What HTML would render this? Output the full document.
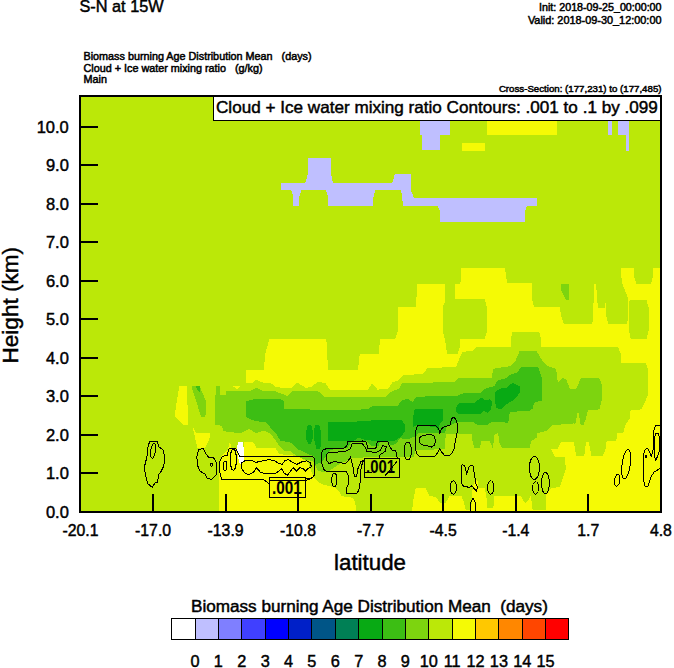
<!DOCTYPE html>
<html><head><meta charset="utf-8"><title>S-N at 15W</title>
<style>
html,body{margin:0;padding:0;background:#fff;}
body{width:674px;height:668px;position:relative;overflow:hidden;font-family:"Liberation Sans",sans-serif;color:#000;}
.t{position:absolute;white-space:nowrap;line-height:1;}
svg{position:absolute;left:0;top:0;}
</style></head><body>
<svg width="674" height="668" viewBox="0 0 674 668">
<defs><clipPath id="cp"><rect x="80" y="96" width="581" height="416"/></clipPath></defs>
<g clip-path="url(#cp)" shape-rendering="crispEdges">
<rect x="80" y="96" width="581" height="416" fill="#BBE808"/>

<polygon fill="#F5FA05" points="246.2,370.1 264.0,370.1 265.0,355.0 269.4,338.9 326.3,338.9 328.1,370.1 357.5,370.1 358.0,369.7 359.8,353.7 378.5,353.7 380.3,338.5 395.4,338.5 398.1,330.5 398.1,306.5 415.9,306.5 417.3,284.2 444.9,284.2 444.9,302.0 443.1,305.6 443.1,332.3 445.2,341.2 447.0,353.7 457.7,353.7 460.4,345.7 460.4,338.5 484.9,338.5 486.7,332.3 486.7,306.5 484.9,299.4 455.0,299.4 455.0,284.2 460.4,283.4 461.5,268.0 505.0,268.0 507.2,283.4 532.1,283.4 532.1,299.4 533.9,306.5 559.7,306.5 561.1,315.5 563.8,323.5 592.3,323.5 593.2,315.5 594.0,284.4 596.4,284.4 596.7,299.5 598.5,307.5 604.7,307.5 605.6,303.0 606.0,315.5 608.3,323.5 627.0,323.5 627.9,319.0 628.5,304.0 627.9,297.7 622.5,284.4 621.3,276.4 621.3,267.8 634.1,267.8 634.1,276.4 636.3,283.5 651.0,283.5 652.8,276.4 652.8,267.8 661.0,267.8 661.0,512.0 546.0,512.0 546.0,494.6 550.9,488.6 559.9,486.6 561.9,480.7 565.8,468.7 564.9,456.8 554.9,456.8 551.3,449.2 557.6,448.6 561.1,441.5 573.6,441.5 576.3,455.7 584.3,455.7 586.0,441.5 588.7,441.5 591.4,455.7 603.0,455.7 605.6,448.6 606.5,441.5 616.3,440.6 617.2,433.5 623.4,432.6 625.2,425.5 629.7,418.3 630.6,410.3 641.2,409.4 645.7,400.5 647.8,395.2 647.8,369.4 645.7,362.8 621.3,362.8 620.8,354.2 618.1,346.8 554.0,346.7 541.0,346.5 541.0,338.5 539.2,332.3 512.5,332.3 510.7,338.5 510.7,346.6 477.0,346.6 472.5,351.0 470.0,351.0 462.2,351.9 455.9,367.0 439.0,367.6 427.4,367.9 423.0,374.1 403.4,375.0 398.1,380.4 392.7,382.2 388.3,388.7 377.6,389.6 372.3,383.4 367.8,389.6 350.0,389.6 329.9,389.6 325.5,383.4 318.3,381.6 311.2,387.0 305.9,387.9 297.0,382.5 291.6,387.9 282.7,387.9 275.6,387.0 270.3,382.5 263.1,382.5 256.0,379.8 251.6,383.4 246.2,382.5"/>
<polygon fill="#BBE808" points="629.7,300.4 646.6,300.4 648.9,308.4 648.9,329.8 646.6,338.7 630.6,338.7 628.8,329.8 628.8,305.0"/>
<polygon fill="#F5FA05" points="219.3,512.0 219.3,469.0 220.8,457.1 228.2,449.7 228.9,443.0 230.4,443.0 231.2,448.2 237.1,448.2 243.8,448.2 243.8,442.3 253.4,442.3 256.4,448.2 275.7,448.2 278.6,453.4 284.6,454.9 290.0,454.7 298.9,456.9 307.8,462.1 312.3,474.0 316.0,479.9 321.9,484.3 334.5,487.3 339.7,491.8 341.2,496.2 352.3,497.7 355.3,502.1 356.0,512.0"/>
<polygon fill="#F5FA05" points="412.1,512.0 413.0,500.9 415.7,488.4 425.5,488.4 429.0,495.5 436.1,497.3 439.7,502.7 445.3,503.5 449.8,495.5 461.4,495.5 464.0,502.7 465.8,509.8 471.2,509.8 472.0,495.5 472.9,486.6 475.6,479.5 478.3,481.3 478.3,487.5 484.5,487.5 486.3,495.5 487.2,508.0 493.4,508.0 494.3,495.5 521.0,495.5 523.7,500.9 525.5,503.5 528.1,500.9 530.8,495.5 532.6,509.8 545.9,509.8 546.8,495.5 547.0,512.0"/>
<polygon fill="#F5FA05" points="179.2,386.2 186.6,386.2 188.5,425.3 184.1,425.3 174.5,416.4"/>
<polygon fill="#F5FA05" points="192.3,425.3 196.0,433.4 210.0,433.4 209.3,439.3 204.9,448.2 197.4,448.2"/>
<polygon fill="#F5FA05" points="232.6,386.2 240.0,386.2 237.0,389.0"/>
<rect fill="#F5FA05" x="487.0" y="120.0" width="70.0" height="15.0"/>
<rect fill="#F5FA05" x="462.0" y="143.0" width="23.0" height="8.0"/>
<polygon fill="#7DD40F" points="561.1,284.4 568.6,284.4 568.6,299.5 565.6,299.5 561.1,289.7"/>
<polygon fill="#7DD40F" points="214.5,424.5 214.5,395.0 216.0,395.0 216.0,386.2 219.7,386.2 219.7,395.0 226.4,395.0 226.4,391.0 240.0,391.4 250.7,390.5 256.9,387.9 263.1,391.4 275.6,391.4 287.2,395.9 293.4,390.5 300.5,390.5 318.3,391.4 324.6,396.8 350.0,396.7 385.6,396.7 391.8,391.4 399.0,388.7 402.5,382.5 412.3,383.4 455.0,381.6 458.6,378.0 492.0,377.7 492.9,368.8 510.7,366.1 515.2,361.7 519.6,351.0 536.6,351.0 542.8,361.7 547.2,366.1 556.1,368.8 557.9,382.5 562.4,378.0 565.9,378.9 570.0,389.0 576.3,389.0 580.7,378.3 599.4,378.3 601.7,384.5 601.7,400.5 599.4,409.4 587.8,410.3 586.0,418.3 583.4,425.5 580.7,424.6 578.0,410.3 575.4,423.7 573.9,423.4 552.6,425.2 547.2,430.5 537.4,433.2 536.6,437.7 531.2,441.2 529.4,448.3 502.7,448.3 499.2,443.0 498.3,433.2 494.7,434.1 492.9,448.3 489.4,441.2 481.4,441.2 479.6,448.3 474.2,448.3 472.5,441.2 471.6,433.5 445.7,433.5 445.1,448.9 434.4,449.5 415.4,450.1 414.0,456.5 400.0,457.0 363.0,457.5 350.7,458.1 345.3,461.7 340.0,463.5 331.5,469.5 325.6,472.5 318.2,471.0 313.7,462.1 311.5,460.8 304.3,459.3 297.0,456.2 290.8,451.5 283.5,450.4 279.3,445.8 274.2,438.5 270.3,433.3 263.1,430.6 256.0,433.3 248.9,428.8 240.0,433.3 223.4,431.2 221.9,426.0 216.0,424.5"/>
<polygon fill="#7DD40F" points="192.3,386.2 199.7,386.2 206.4,402.3 206.4,411.9 204.9,417.1 201.2,417.1 192.3,389.0"/>
<polygon fill="#3CBE14" points="246.2,417.2 246.2,401.2 256.9,398.5 280.9,399.4 283.6,401.2 284.5,409.2 350.0,410.0 367.8,409.2 373.1,405.6 398.1,405.6 400.7,401.2 407.0,398.5 412.3,402.0 416.8,396.7 456.8,395.8 463.9,393.1 480.0,393.1 484.0,389.0 494.7,386.0 497.4,380.7 506.3,378.0 510.7,374.5 517.0,372.4 521.4,367.0 538.3,367.0 541.0,375.0 542.3,378.9 542.3,400.3 533.9,402.9 533.0,408.3 529.4,411.0 509.9,411.8 508.1,423.4 502.7,421.6 492.0,421.6 486.7,425.2 477.8,425.2 473.6,422.2 457.0,422.2 451.0,425.2 446.3,426.4 445.1,432.9 417.8,433.5 416.6,435.9 411.9,437.6 408.3,439.4 400.0,438.2 396.0,444.0 390.0,445.5 388.0,441.5 380.0,441.5 378.8,445.5 371.0,445.5 366.5,441.5 358.0,441.0 351.0,442.5 347.6,447.6 340.0,448.0 330.0,450.0 322.0,462.0 314.7,465.0 313.6,456.2 309.5,454.6 304.3,452.0 297.0,448.9 290.8,442.7 280.4,440.6 275.2,432.3 270.0,427.0 266.7,422.6 254.2,420.8"/>
<polygon fill="#3CBE14" points="196.0,386.2 199.7,386.2 199.7,392.6 196.0,387.4"/>
<polygon fill="#08AA14" points="328.5,421.7 350.0,422.5 362.5,420.7 401.6,419.8 405.2,425.2 405.2,431.4 400.7,436.8 394.5,440.8 373.6,440.8 362.0,439.3 359.0,437.2 354.0,440.8 328.2,441.0"/>
<polygon fill="#08AA14" points="308.0,424.5 311.0,424.5 312.6,430.0 312.6,439.0 311.0,443.7 308.0,443.7 306.3,439.0 306.3,431.0"/>
<polygon fill="#08AA14" points="315.5,424.5 319.0,424.5 320.9,431.0 320.9,446.0 319.5,448.9 316.5,448.9 314.5,441.0 313.6,432.0"/>
<polygon fill="#08AA14" points="414.8,409.2 442.7,409.2 443.5,419.8 439.9,423.4 438.1,430.5 435.5,427.0 416.8,425.2 413.0,427.0 413.0,416.9"/>
<polygon fill="#08AA14" points="455.9,407.4 459.5,402.9 474.2,402.9 481.4,397.6 484.9,400.3 489.4,399.4 492.0,402.0 491.2,409.2 487.6,412.7 483.1,410.9 481.4,413.6 458.6,414.5 455.9,411.0"/>
<polygon fill="#08AA14" points="495.6,391.4 500.1,388.7 506.3,387.8 512.5,382.8 519.6,386.0 519.6,393.1 513.4,400.3 507.2,403.8 501.8,409.2 496.5,408.3 494.7,400.3"/>
<polygon fill="#BFBFFF" points="281.0,182.6 305.3,182.6 307.8,174.3 307.8,157.9 331.0,157.9 331.0,174.3 333.0,182.6 392.3,182.6 394.8,174.3 411.2,174.3 411.2,190.7 413.8,197.8 537.0,197.8 537.0,205.8 527.0,205.8 525.3,211.0 525.3,221.8 439.8,221.8 439.8,211.0 437.5,205.8 403.2,205.8 401.1,190.2 375.4,190.2 373.4,197.0 372.9,205.8 328.0,205.8 328.0,197.0 326.0,190.2 301.5,190.2 299.0,197.0 299.0,205.8 293.2,205.8 293.2,197.0 291.4,190.2 281.0,190.2"/>
<rect fill="#BFBFFF" x="420.0" y="120.0" width="30.0" height="15.0"/>
<rect fill="#BFBFFF" x="422.0" y="135.0" width="18.0" height="15.0"/>
<rect fill="#BFBFFF" x="608.4" y="120.0" width="3.9" height="15.0"/>
<rect fill="#BFBFFF" x="618.2" y="120.0" width="10.8" height="15.0"/>
<rect fill="#BFBFFF" x="625.7" y="135.0" width="3.3" height="16.0"/>
<polygon fill="#FFFFFF" points="237.1,448.2 237.8,442.3 242.3,441.5 243.8,448.2 243.8,461.5 240.1,464.5 237.8,457.1"/>
</g>
<g clip-path="url(#cp)" fill="none" stroke="#000" stroke-width="1" shape-rendering="crispEdges">
<path d="M149.6 441.4 L157.6 441.4 L158.5 446.4 L162.9 449.9 L164.7 457.0 L163.8 465.9 L161.2 471.3 L158.5 474.8 L157.6 482.0 L154.9 482.9 L152.3 487.3 L147.8 483.8 L146.0 476.6 L144.2 467.7 L146.9 457.0 L147.8 448.1 Z"/>
<ellipse cx="153.1" cy="450.8" rx="2.4" ry="7.5" transform="rotate(8 153.1 450.8)"/>
<path d="M198.5 449.9 L203.0 448.1 L205.7 453.5 L208.3 457.0 L213.7 457.9 L216.3 462.4 L216.3 474.8 L211.9 479.3 L207.4 478.4 L204.8 474.0 L200.3 471.3 L197.7 465.9 L196.8 457.0 Z"/>
<ellipse cx="211.4" cy="464.7" rx="1.2" ry="1.4" transform="rotate(0 211.4 464.7)"/>
<path d="M269.7 484.1 L264.0 480.0 L230.5 479.2 L228.1 480.0 L221.5 479.2 L219.9 472.6 L219.9 461.2 L222.3 456.3 L227.2 455.5 L228.9 449.0 L235.4 448.2 L237.8 452.2 L239.5 456.3 L312.1 456.3 L314.6 458.8 L314.9 474.3 L312.1 477.9 L305.6 478.4"/>
<path d="M241.9 462.8 L245.2 460.4 L252.5 460.4 L255.8 462.8 L259.1 461.2 L264.0 460.9 L268.9 459.6 L273.8 460.4 L277.8 462.8 L281.9 464.5 L285.2 460.4 L288.4 459.6 L293.3 462.8 L296.6 464.5 L301.5 462.0 L306.4 460.9 L310.5 462.8 L311.3 466.9 L308.0 468.6 L305.6 471.0 L303.1 468.6 L299.9 467.7 L296.6 471.0 L293.3 467.7 L290.1 471.8 L287.6 475.1 L284.4 473.5 L281.9 468.6 L278.7 471.0 L275.4 473.5 L268.9 473.9 L260.7 472.6 L256.6 467.7 L253.4 472.6 L248.5 474.6 L244.4 472.6 L241.9 468.6 Z"/>
<ellipse cx="233.3" cy="459.6" rx="3.0" ry="10.6" transform="rotate(0 233.3 459.6)"/>
<ellipse cx="225.1" cy="465.8" rx="1.6" ry="4.9" transform="rotate(0 225.1 465.8)"/>
<path d="M364.7 460.6 L362.5 462.1 L361.0 469.5 L360.3 481.4 L358.8 490.3 L356.6 494.0 L346.9 493.2 L346.2 488.8 L348.4 484.3 L348.4 475.4 L346.2 471.7 L326.9 471.7 L323.9 469.5 L321.7 463.6 L321.3 454.7 L322.5 450.2 L326.9 448.4 L344.7 448.0 L346.9 445.8 L347.7 441.6 L362.5 441.0 L366.2 442.1 L367.7 448.0 L375.9 448.0 L377.3 441.6 L387.7 441.6 L390.0 447.3 L392.2 450.2 L395.9 451.0 L396.6 456.9 L398.9 459.1"/>
<path d="M364.7 460.3 L361.0 461.4 L358.1 468.0 L356.6 476.2 L354.4 476.9 L352.9 466.5 L350.6 456.9 L348.4 460.6 L345.4 463.6 L340.3 462.8 L334.3 461.4 L329.1 463.6 L326.2 459.9 L326.2 454.7 L329.1 452.4 L344.7 451.7 L350.6 448.7 L352.1 443.5 L361.8 443.1 L364.7 446.5 L367.0 451.4 L375.9 452.4 L380.3 450.2 L382.5 445.8 L386.2 446.5 L385.5 451.0 L380.3 454.7 L378.8 458.4"/>
<ellipse cx="334.3" cy="479.9" rx="2.5" ry="6.7" transform="rotate(0 334.3 479.9)"/>
<ellipse cx="407.8" cy="451.0" rx="3.7" ry="8.9" transform="rotate(0 407.8 451.0)"/>
<path d="M417.8 425.8 L435.6 425.4 L438.6 428.7 L439.8 433.5 L441.5 428.7 L445.1 426.4 L449.9 425.2 L451.6 418.6 L454.0 416.9 L456.4 420.4 L457.6 426.4 L457.0 433.5 L455.2 441.8 L454.0 448.9 L452.2 453.1 L449.9 455.4 L444.5 455.4 L441.5 451.9 L439.8 448.3 L438.0 451.9 L435.6 456.0 L419.0 456.3 L416.6 453.7 L415.4 448.9 L415.4 432.3 L416.6 427.6 Z"/>
<path d="M422.0 435.9 L430.9 434.1 L434.4 436.5 L435.6 440.6 L434.4 445.4 L431.5 447.1 L427.9 445.9 L421.4 444.8 L419.0 441.2 L419.6 437.6 Z"/>
<path d="M462.3 464.4 L464.9 466.2 L466.7 473.3 L469.4 466.2 L472.9 465.3 L474.7 475.9 L475.6 483.1 L477.4 486.6 L476.5 491.1 L473.8 488.4 L472.0 485.7 L469.4 487.5 L462.3 485.7 L461.0 477.7 L461.0 468.8 Z"/>
<ellipse cx="453.4" cy="487.5" rx="3.0" ry="6.8" transform="rotate(0 453.4 487.5)"/>
<ellipse cx="490.7" cy="487.5" rx="3.0" ry="6.8" transform="rotate(0 490.7 487.5)"/>
<path d="M470.3 511.6 L470.6 502.7 L472.9 498.2 L475.3 502.7 L475.6 511.6"/>
<ellipse cx="534.4" cy="467.9" rx="5.0" ry="11.6" transform="rotate(0 534.4 467.9)"/>
<ellipse cx="535.6" cy="487.9" rx="3.0" ry="6.2" transform="rotate(0 535.6 487.9)"/>
<ellipse cx="545.4" cy="483.1" rx="3.9" ry="10.7" transform="rotate(0 545.4 483.1)"/>
<ellipse cx="626.2" cy="464.1" rx="4.2" ry="15.0" transform="rotate(8 626.2 464.1)"/>
<ellipse cx="617.2" cy="480.3" rx="2.6" ry="6.2" transform="rotate(8 617.2 480.3)"/>
<path d="M660.0 425.5 L655.5 425.8 L653.7 430.6 L653.1 449.7 L651.3 456.3 L649.5 452.1 L647.7 448.5 L645.3 449.1 L643.5 454.5 L643.3 479.7 L645.3 486.9 L647.7 486.9 L649.5 482.1 L651.3 476.1 L654.3 471.9 L658.5 469.5 L660.0 467.7"/>
<path d="M655.5 433.6 L658.5 433.6 L659.7 439.0 L659.7 449.7 L657.3 456.9 L655.7 460.3 L654.3 455.7 L654.3 439.0 Z"/>
<ellipse cx="645.9" cy="456.9" rx="0.8" ry="1.2" transform="rotate(0 645.9 456.9)"/>
</g>
<g fill="none" stroke="#000" stroke-width="1" shape-rendering="crispEdges"><rect x="269.5" y="477.5" width="36" height="20"/><rect x="364.5" y="458.5" width="35" height="19"/><path d="M269.5 480.5 L306 480.5 L313 477.5"/><path d="M397 461.5 L384.5 476.5"/><path d="M364.5 472.5 L372 472.5"/></g>
<rect x="213.5" y="96.5" width="447" height="24" fill="#fff" stroke="#000" stroke-width="1" shape-rendering="crispEdges"/>
<rect x="80" y="96" width="581" height="416" fill="none" stroke="#000" stroke-width="2" shape-rendering="crispEdges"/>
<g stroke="#000" stroke-width="2" shape-rendering="crispEdges">
<line x1="81" x2="98" y1="473.0" y2="473.0"/>
<line x1="81" x2="98" y1="435.0" y2="435.0"/>
<line x1="81" x2="98" y1="396.0" y2="396.0"/>
<line x1="81" x2="98" y1="358.0" y2="358.0"/>
<line x1="81" x2="98" y1="319.0" y2="319.0"/>
<line x1="81" x2="98" y1="281.0" y2="281.0"/>
<line x1="81" x2="98" y1="242.0" y2="242.0"/>
<line x1="81" x2="98" y1="204.0" y2="204.0"/>
<line x1="81" x2="98" y1="165.0" y2="165.0"/>
<line x1="81" x2="98" y1="127.0" y2="127.0"/>
<line x1="153.1" x2="153.1" y1="494" y2="511"/>
<line x1="225.6" x2="225.6" y1="494" y2="511"/>
<line x1="298.1" x2="298.1" y1="494" y2="511"/>
<line x1="370.7" x2="370.7" y1="494" y2="511"/>
<line x1="443.2" x2="443.2" y1="494" y2="511"/>
<line x1="515.8" x2="515.8" y1="494" y2="511"/>
<line x1="588.3" x2="588.3" y1="494" y2="511"/>
</g>
<g stroke="#000" stroke-width="1" shape-rendering="crispEdges">
<rect x="171.70" y="618.5" width="23.37" height="21" fill="#FFFFFF"/>
<rect x="195.07" y="618.5" width="23.37" height="21" fill="#BFBFFF"/>
<rect x="218.44" y="618.5" width="23.37" height="21" fill="#7F7FFF"/>
<rect x="241.81" y="618.5" width="23.37" height="21" fill="#4040FF"/>
<rect x="265.18" y="618.5" width="23.37" height="21" fill="#0000FF"/>
<rect x="288.55" y="618.5" width="23.37" height="21" fill="#0020C8"/>
<rect x="311.92" y="618.5" width="23.37" height="21" fill="#005587"/>
<rect x="335.29" y="618.5" width="23.37" height="21" fill="#008055"/>
<rect x="358.66" y="618.5" width="23.37" height="21" fill="#08AA14"/>
<rect x="382.03" y="618.5" width="23.37" height="21" fill="#3CBE14"/>
<rect x="405.40" y="618.5" width="23.37" height="21" fill="#7DD40F"/>
<rect x="428.77" y="618.5" width="23.37" height="21" fill="#BBE808"/>
<rect x="452.14" y="618.5" width="23.37" height="21" fill="#F5FA05"/>
<rect x="475.51" y="618.5" width="23.37" height="21" fill="#FFC800"/>
<rect x="498.88" y="618.5" width="23.37" height="21" fill="#FF8700"/>
<rect x="522.25" y="618.5" width="23.37" height="21" fill="#FF4600"/>
<rect x="545.62" y="618.5" width="23.37" height="21" fill="#FF0000"/>
</g>
</svg>
<div class="t" style="left:79.5px;top:-2px;font-size:16.3px;-webkit-text-stroke:0.45px #000;">S-N at 15W</div>
<div class="t" style="left:83.5px;top:50.5px;font-size:10.8px;-webkit-text-stroke:0.5px #000;">Biomass burning Age Distribution Mean &nbsp; (days)</div>
<div class="t" style="left:83.5px;top:62.5px;font-size:10.8px;-webkit-text-stroke:0.5px #000;">Cloud + Ice water mixing ratio &nbsp; (g/kg)</div>
<div class="t" style="left:83.5px;top:74px;font-size:10.8px;-webkit-text-stroke:0.5px #000;">Main</div>
<div class="t" style="right:12.5px;top:1.5px;font-size:10.7px;-webkit-text-stroke:0.5px #000;">Init: 2018-09-25_00:00:00</div>
<div class="t" style="right:12.5px;top:14.5px;font-size:10.9px;-webkit-text-stroke:0.5px #000;">Valid: 2018-09-30_12:00:00</div>
<div class="t" style="right:12.5px;top:84px;font-size:9.7px;-webkit-text-stroke:0.5px #000;">Cross-Section: (177,231) to (177,485)</div>
<div class="t" style="left:215.8px;top:98.8px;font-size:16.5px;transform:scaleX(1.037);transform-origin:0 0;-webkit-text-stroke:0.45px #000;">Cloud + Ice water mixing ratio Contours: .001 to .1 by .099</div>
<div class="t" style="right:605.2px;top:503.5px;font-size:16.5px;-webkit-text-stroke:0.45px #000;">0.0</div>
<div class="t" style="right:605.2px;top:465.1px;font-size:16.5px;-webkit-text-stroke:0.45px #000;">1.0</div>
<div class="t" style="right:605.2px;top:426.6px;font-size:16.5px;-webkit-text-stroke:0.45px #000;">2.0</div>
<div class="t" style="right:605.2px;top:388.1px;font-size:16.5px;-webkit-text-stroke:0.45px #000;">3.0</div>
<div class="t" style="right:605.2px;top:349.7px;font-size:16.5px;-webkit-text-stroke:0.45px #000;">4.0</div>
<div class="t" style="right:605.2px;top:311.2px;font-size:16.5px;-webkit-text-stroke:0.45px #000;">5.0</div>
<div class="t" style="right:605.2px;top:272.8px;font-size:16.5px;-webkit-text-stroke:0.45px #000;">6.0</div>
<div class="t" style="right:605.2px;top:234.3px;font-size:16.5px;-webkit-text-stroke:0.45px #000;">7.0</div>
<div class="t" style="right:605.2px;top:195.9px;font-size:16.5px;-webkit-text-stroke:0.45px #000;">8.0</div>
<div class="t" style="right:605.2px;top:157.4px;font-size:16.5px;-webkit-text-stroke:0.45px #000;">9.0</div>
<div class="t" style="right:605.2px;top:119.0px;font-size:16.5px;-webkit-text-stroke:0.45px #000;">10.0</div>
<div class="t" style="left:50.5px;top:522.5px;font-size:15.8px;width:60px;text-align:center;-webkit-text-stroke:0.45px #000;">-20.1</div>
<div class="t" style="left:123.1px;top:522.5px;font-size:15.8px;width:60px;text-align:center;-webkit-text-stroke:0.45px #000;">-17.0</div>
<div class="t" style="left:195.6px;top:522.5px;font-size:15.8px;width:60px;text-align:center;-webkit-text-stroke:0.45px #000;">-13.9</div>
<div class="t" style="left:268.1px;top:522.5px;font-size:15.8px;width:60px;text-align:center;-webkit-text-stroke:0.45px #000;">-10.8</div>
<div class="t" style="left:340.7px;top:522.5px;font-size:15.8px;width:60px;text-align:center;-webkit-text-stroke:0.45px #000;">-7.7</div>
<div class="t" style="left:413.2px;top:522.5px;font-size:15.8px;width:60px;text-align:center;-webkit-text-stroke:0.45px #000;">-4.5</div>
<div class="t" style="left:485.8px;top:522.5px;font-size:15.8px;width:60px;text-align:center;-webkit-text-stroke:0.45px #000;">-1.4</div>
<div class="t" style="left:558.3px;top:522.5px;font-size:15.8px;width:60px;text-align:center;-webkit-text-stroke:0.45px #000;">1.7</div>
<div class="t" style="left:630.9px;top:522.5px;font-size:15.8px;width:60px;text-align:center;-webkit-text-stroke:0.45px #000;">4.8</div>
<div class="t" style="left:270px;top:551.5px;font-size:22.3px;width:200px;text-align:center;-webkit-text-stroke:0.45px #000;">latitude</div>
<div class="t" style="left:-89.4px;top:293.5px;font-size:22.5px;width:200px;text-align:center;transform:rotate(-90deg);transform-origin:center center;-webkit-text-stroke:0.45px #000;">Height (km)</div>
<div class="t" style="left:191.2px;top:598.8px;font-size:16px;transform:scaleX(1.07);transform-origin:0 0;-webkit-text-stroke:0.45px #000;">Biomass burning Age Distribution Mean &nbsp;(days)</div>
<div class="t" style="left:175.1px;top:652.5px;font-size:16.3px;width:40px;text-align:center;-webkit-text-stroke:0.45px #000;">0</div>
<div class="t" style="left:198.4px;top:652.5px;font-size:16.3px;width:40px;text-align:center;-webkit-text-stroke:0.45px #000;">1</div>
<div class="t" style="left:221.8px;top:652.5px;font-size:16.3px;width:40px;text-align:center;-webkit-text-stroke:0.45px #000;">2</div>
<div class="t" style="left:245.2px;top:652.5px;font-size:16.3px;width:40px;text-align:center;-webkit-text-stroke:0.45px #000;">3</div>
<div class="t" style="left:268.6px;top:652.5px;font-size:16.3px;width:40px;text-align:center;-webkit-text-stroke:0.45px #000;">4</div>
<div class="t" style="left:291.9px;top:652.5px;font-size:16.3px;width:40px;text-align:center;-webkit-text-stroke:0.45px #000;">5</div>
<div class="t" style="left:315.3px;top:652.5px;font-size:16.3px;width:40px;text-align:center;-webkit-text-stroke:0.45px #000;">6</div>
<div class="t" style="left:338.7px;top:652.5px;font-size:16.3px;width:40px;text-align:center;-webkit-text-stroke:0.45px #000;">7</div>
<div class="t" style="left:362.0px;top:652.5px;font-size:16.3px;width:40px;text-align:center;-webkit-text-stroke:0.45px #000;">8</div>
<div class="t" style="left:385.4px;top:652.5px;font-size:16.3px;width:40px;text-align:center;-webkit-text-stroke:0.45px #000;">9</div>
<div class="t" style="left:408.8px;top:652.5px;font-size:16.3px;width:40px;text-align:center;-webkit-text-stroke:0.45px #000;">10</div>
<div class="t" style="left:432.1px;top:652.5px;font-size:16.3px;width:40px;text-align:center;-webkit-text-stroke:0.45px #000;">11</div>
<div class="t" style="left:455.5px;top:652.5px;font-size:16.3px;width:40px;text-align:center;-webkit-text-stroke:0.45px #000;">12</div>
<div class="t" style="left:478.9px;top:652.5px;font-size:16.3px;width:40px;text-align:center;-webkit-text-stroke:0.45px #000;">13</div>
<div class="t" style="left:502.2px;top:652.5px;font-size:16.3px;width:40px;text-align:center;-webkit-text-stroke:0.45px #000;">14</div>
<div class="t" style="left:525.6px;top:652.5px;font-size:16.3px;width:40px;text-align:center;-webkit-text-stroke:0.45px #000;">15</div>
<div class="t" style="left:271.8px;top:478.6px;font-size:18px;font-weight:bold;transform:scaleX(0.85);transform-origin:0 0;">.001</div>
<div class="t" style="left:366.3px;top:458.6px;font-size:17.5px;font-weight:bold;transform:scaleX(0.85);transform-origin:0 0;">.001</div>
</body></html>
